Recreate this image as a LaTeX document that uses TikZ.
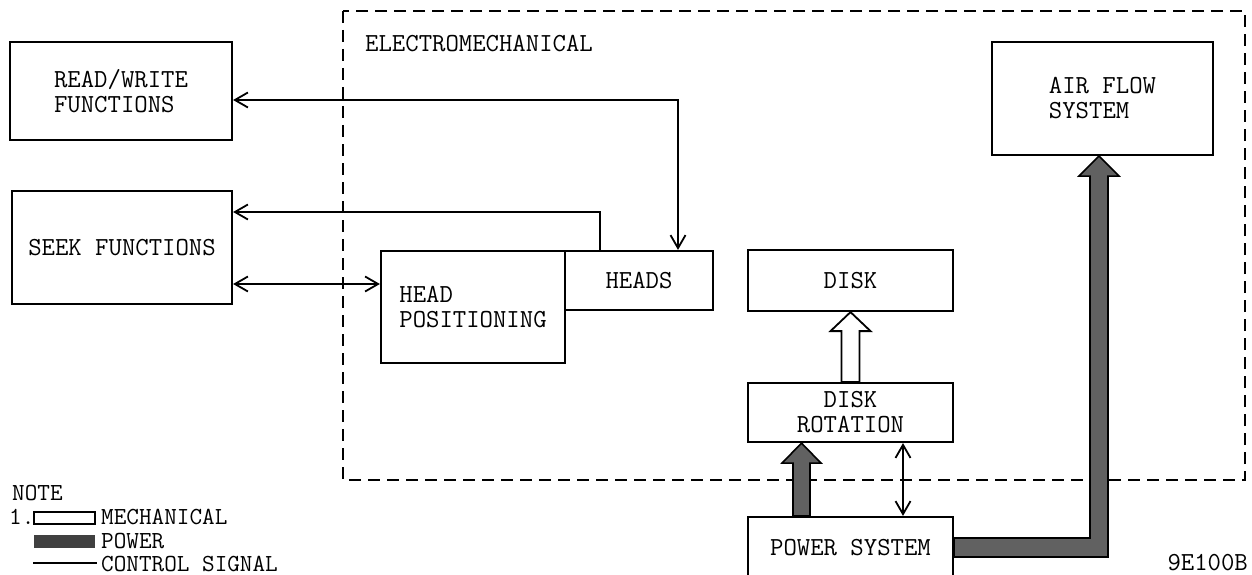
\documentclass[tikz,border=0pt]{standalone}
\usetikzlibrary{positioning, arrows.meta, calc}
\newcommand{\dgfont}{\fontsize{26}{25}\selectfont\ttfamily}
\newcommand{\notefont}{\fontsize{24.5}{24}\selectfont\ttfamily}
\tikzset{
  blk/.style={draw, line width=2.2pt, inner sep=0pt, font=\dgfont},
  sig/.style={line width=1.8pt},
  frame/.style={line width=2pt, dash pattern=on 12pt off 7pt},
  power/.style={draw, line width=1.6pt, fill=black!62, line join=miter},
  mech/.style={draw, line width=1.8pt, fill=white, line join=miter},
  lbl/.style={inner sep=0pt, font=\dgfont},
  nlbl/.style={inner sep=0pt, font=\notefont, anchor=west},
}

\begin{document}
\begin{tikzpicture}[x=1pt, y=-1pt, >={Straight Barb[length=13pt,width=15pt]}]
  \useasboundingbox (0,0) rectangle (1252,575);

  % electromechanical frame
  \draw[frame] (343,11) rectangle (1245,480);
  \node[lbl, anchor=west] (em) at (365,44) {ELECTROMECHANICAL};

  % blocks
  \node[blk, minimum width=222pt, minimum height=98pt, align=left] (rw) at (121,91) {READ/WRITE\\FUNCTIONS};
  \node[blk, minimum width=220pt, minimum height=113pt] (seek) at (122,247.5) {SEEK FUNCTIONS};
  \node[blk, minimum width=184pt, minimum height=112pt, align=left] (hpos) at (473,307) {HEAD\\POSITIONING};
  \node[blk, minimum width=148pt, minimum height=59pt] (heads) at (639,280.5) {HEADS};
  \node[blk, minimum width=205pt, minimum height=61pt] (disk) at (850.5,280.5) {DISK};
  \node[blk, minimum width=205pt, minimum height=59pt, align=center] (rot) at (850.5,412.5) {DISK\\ROTATION};
  \node[blk, minimum width=205pt, minimum height=61pt] (pwr) at (850.5,547.5) {POWER SYSTEM};
  \node[blk, minimum width=221pt, minimum height=113pt, align=left] (air) at (1102.5,98.5) {AIR FLOW\\SYSTEM};

  % control signals
  \draw[sig, <->] ([yshift=-9pt]rw.east) -| ([xshift=39pt]heads.north);
  \draw[sig, ->] ([xshift=-39pt]heads.north) |- ([yshift=35.5pt]seek.east);
  \draw[sig, <->] ([yshift=-36.5pt]seek.east) coordinate (s1) -- (s1 -| hpos.west);
  \draw[sig, <->] ([xshift=52.5pt]rot.south) -- ([xshift=52.5pt]pwr.north);

  % mechanical: rotation -> disk
  \draw[mech] ($(rot.north)+(-9,0)$) -- ($(disk.south)+(-9,19)$) -- ($(disk.south)+(-20,19)$)
    -- (disk.south) -- ($(disk.south)+(20,19)$) -- ($(disk.south)+(9,19)$) -- ($(rot.north)+(9,0)$) -- cycle;

  % power: power system -> rotation
  \coordinate (a1) at ([xshift=-49pt]pwr.north);
  \coordinate (a2) at ([xshift=-49pt]rot.south);
  \draw[power] ($(a1)+(-8.5,0)$) -- ($(a2)+(-8.5,20)$) -- ($(a2)+(-19.5,20)$) -- (a2)
    -- ($(a2)+(19.5,20)$) -- ($(a2)+(8.5,20)$) -- ($(a1)+(8.5,0)$) -- cycle;

  % power: power system -> air flow
  \coordinate (t) at ([xshift=-3.5pt]air.south);
  \coordinate (k) at (t |- pwr.east);
  \draw[power] ($(pwr.east)+(0,-9.5)$) -- ($(k)+(-9,-9.5)$) -- ($(t)+(-9,20)$) -- ($(t)+(-20,20)$)
    -- (t) -- ($(t)+(20,20)$) -- ($(t)+(9,20)$) -- ($(k)+(9,9.5)$) -- ($(pwr.east)+(0,9.5)$) -- cycle;

  % note
  \node[nlbl] (note) at (12,493) {NOTE};
  \node[nlbl] (n1) at (9,517) {1.};
  \draw[mech, line width=1.6pt] (34,512) rectangle (95,524);
  \node[nlbl] (nmech) at (101,517) {MECHANICAL};
  \fill[black!75] (34,535) rectangle (95,548);
  \node[nlbl] (npwr) at (101,541) {POWER};
  \draw[sig] (33,563) -- (97,563);
  \node[nlbl] (nsig) at (101,564) {CONTROL SIGNAL};

  \node[lbl, anchor=east] (fig) at (1248,563) {9E100B};
\end{tikzpicture}
\end{document}
